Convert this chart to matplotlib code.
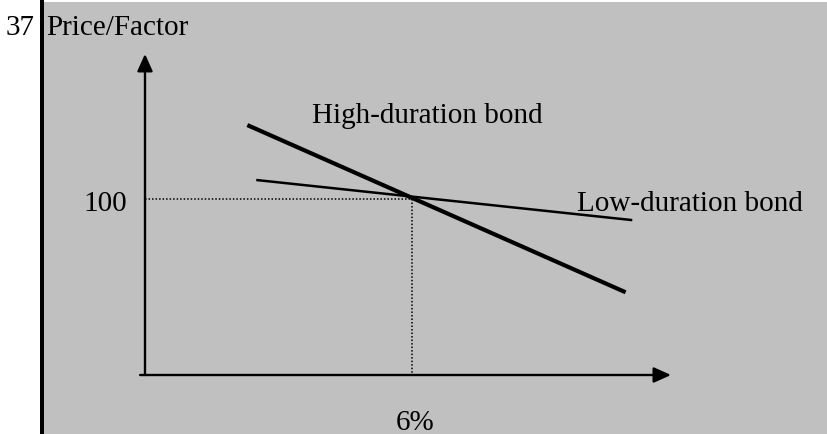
import matplotlib
matplotlib.use("Agg")
import matplotlib.pyplot as plt
from matplotlib.patches import Rectangle

# schematic data: yield (%) vs price
yield_cross = 6.0
price_cross = 100.0
high_yield = [2.3, 10.8]
high_price = [142.0, 47.0]
low_yield = [2.5, 10.95]
low_price = [110.8, 88.0]
x_axis_end = 11.82
y_axis_end = 182.4

plt.rcParams['font.family'] = ['Liberation Serif', 'DejaVu Serif']

W, H = 827, 435
fig = plt.figure(figsize=(W / 100, H / 100), dpi=100)
fig.patch.set_facecolor('white')

# page background: grey panel with black bar on the left
fig.patches.append(Rectangle((43 / W, 0), 1 - 43 / W, 1 - 3 / H, transform=fig.transFigure,
                             fc='#c0c0c0', ec='none', zorder=-2))
fig.patches.append(Rectangle((40 / W, 0), 3.5 / W, 1, transform=fig.transFigure,
                             fc='black', ec='none', zorder=-1))

ax = fig.add_axes([0, 0, 1, 1])
ax.set_axis_off()
ax.patch.set_alpha(0)
px_x = 44.5   # pixels per % yield
px_y = 1.76   # pixels per price unit
ax.set_xlim(-145 / px_x, (W - 145) / px_x)
ax.set_ylim(-(H - 376) / px_y, 376 / px_y)

fs = 21
arrow = dict(arrowstyle='-|>,head_length=0.8,head_width=0.36', lw=1.7, color='black',
             shrinkA=0, shrinkB=0, mutation_scale=13)
ax.annotate('', xy=(x_axis_end, 0), xytext=(-0.11, 0), arrowprops=arrow)
ax.annotate('', xy=(0, y_axis_end), xytext=(0, 0), arrowprops=arrow)

# dotted guides
ax.plot([0, yield_cross], [price_cross, price_cross], color='black', lw=1.1, ls=(0, (1, 1.3)))
ax.plot([yield_cross, yield_cross], [price_cross, 0], color='black', lw=1.1, ls=(0, (1, 1.3)))

ax.plot(high_yield, high_price, color='black', lw=3.0, solid_capstyle='butt')
ax.plot(low_yield, low_price, color='black', lw=1.8, solid_capstyle='butt')

ax.annotate('100', xy=(0, price_cross), xytext=(-13, -8), textcoords='offset points',
            ha='right', va='baseline', fontsize=fs)
ax.annotate('6%', xy=(yield_cross, 0), xytext=(2.5, -39), textcoords='offset points',
            ha='center', va='baseline', fontsize=fs)
ax.text(3.75, 143.75, 'High-duration bond', ha='left', va='baseline', fontsize=fs)
ax.text(9.71, 93.75, 'Low-duration bond', ha='left', va='baseline', fontsize=fs)

fig.text(35 / W, 1 - 35 / H, '37', ha='right', va='baseline', fontsize=fs)
fig.text(46 / W, 1 - 35 / H, 'Price/Factor', ha='left', va='baseline', fontsize=fs)

fig.savefig('out.png', dpi=100, facecolor=fig.get_facecolor())
